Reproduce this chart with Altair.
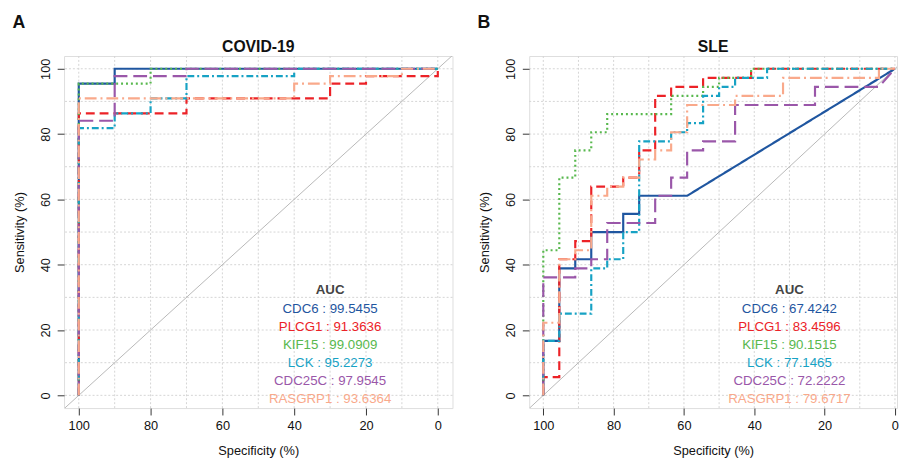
import altair as alt
import pandas as pd

FONT = "Liberation Sans"

genes = ["CDC6", "PLCG1", "KIF15", "LCK", "CDC25C", "RASGRP1"]
colors = ["#1f56a0", "#ec2227", "#58b84e", "#17a2c4", "#9a57a9", "#f9a98b"]
dashes = [[1, 0], [9, 5], [2, 3], [7, 3, 2, 3], [14, 6], [12, 4, 2, 4]]

# ---------- COVID-19 ROC curves (specificity %, sensitivity %) ----------
cov_cdc6_spec = [100, 100, 90, 90, 0]
cov_cdc6_sens = [0, 95.45, 95.45, 100, 100]
cov_plcg1_spec = [100, 100, 70, 70, 30, 30, 20, 20, 0, 0]
cov_plcg1_sens = [0, 86.36, 86.36, 90.91, 90.91, 95.45, 95.45, 97.73, 97.73, 100]
cov_kif15_spec = [100, 100, 80, 80, 0]
cov_kif15_sens = [0, 95.45, 95.45, 100, 100]
cov_lck_spec = [100, 100, 90, 90, 80, 80, 70, 70, 40, 40, 0]
cov_lck_sens = [0, 81.82, 81.82, 86.36, 86.36, 90.91, 90.91, 97.73, 97.73, 100, 100]
cov_cdc25c_spec = [100, 100, 90, 90, 70, 70, 0]
cov_cdc25c_sens = [0, 84.09, 84.09, 97.73, 97.73, 100, 100]
cov_rasgrp1_spec = [100, 100, 40, 40, 30, 30, 10, 10, 0]
cov_rasgrp1_sens = [0, 90.91, 90.91, 95.45, 95.45, 97.73, 97.73, 100, 100]
cov_auc = ["99.5455", "91.3636", "99.0909", "95.2273", "97.9545", "93.6364"]

# ---------- SLE ROC curves ----------
sle_cdc6_spec = [100, 100, 95.45, 95.45, 90.91, 90.91, 86.36, 86.36, 77.27, 77.27, 72.73, 72.73, 59.09, 0]
sle_cdc6_sens = [0, 16.67, 16.67, 38.89, 38.89, 41.67, 41.67, 50, 50, 55.56, 55.56, 61.11, 61.11, 100]
sle_plcg1_spec = [100, 100, 95.45, 95.45, 90.91, 90.91, 86.36, 86.36, 77.27, 77.27, 72.73, 72.73,
                  68.18, 68.18, 63.64, 63.64, 54.55, 54.55, 40.91, 40.91, 0]
sle_plcg1_sens = [0, 5.56, 5.56, 41.67, 41.67, 47.22, 47.22, 63.89, 63.89, 66.67, 66.67, 75,
                  75, 91.67, 91.67, 94.44, 94.44, 97.22, 97.22, 100, 100]
sle_kif15_spec = [100, 100, 95.45, 95.45, 90.91, 90.91, 86.36, 86.36, 81.82, 81.82, 63.64, 63.64,
                  54.55, 54.55, 50, 50, 40.91, 40.91, 0]
sle_kif15_sens = [0, 44.44, 44.44, 66.67, 66.67, 75, 75, 80.56, 80.56, 86.11, 86.11, 91.67,
                  91.67, 94.44, 94.44, 97.22, 97.22, 100, 100]
sle_lck_spec = [100, 100, 95.45, 95.45, 86.36, 86.36, 81.82, 81.82, 77.27, 77.27, 72.73, 72.73,
                63.64, 63.64, 59.09, 59.09, 54.55, 54.55, 50, 50, 45.45, 45.45, 36.36, 36.36, 0]
sle_lck_sens = [0, 16.67, 16.67, 25, 25, 38.89, 38.89, 41.67, 41.67, 50, 50, 77.78,
                77.78, 80.56, 80.56, 83.33, 83.33, 91.67, 91.67, 94.44, 94.44, 97.22, 97.22, 100, 100]
sle_cdc25c_spec = [100, 100, 90.91, 90.91, 86.36, 86.36, 81.82, 81.82, 68.18, 68.18, 63.64, 63.64,
                   59.09, 59.09, 54.55, 54.55, 45.45, 45.45, 22.73, 22.73, 4.55, 0]
sle_cdc25c_sens = [0, 36.11, 36.11, 38.89, 38.89, 41.67, 41.67, 52.78, 52.78, 61.11, 61.11, 66.67,
                   66.67, 75, 75, 77.78, 77.78, 88.89, 88.89, 94.44, 94.44, 100]
sle_rasgrp1_spec = [100, 100, 95.45, 95.45, 90.91, 90.91, 86.36, 86.36, 81.82, 81.82, 77.27, 77.27,
                    72.73, 72.73, 68.18, 68.18, 63.64, 63.64, 59.09, 59.09, 45.45, 45.45, 31.82, 31.82,
                    4.55, 4.55, 0]
sle_rasgrp1_sens = [0, 22.22, 22.22, 41.67, 41.67, 44.44, 44.44, 61.11, 61.11, 63.89, 63.89, 66.67,
                    66.67, 72.22, 72.22, 75, 75, 80.56, 80.56, 88.89, 88.89, 91.67, 91.67, 97.22,
                    97.22, 100, 100]
sle_auc = ["67.4242", "83.4596", "90.1515", "77.1465", "72.2222", "79.6717"]

x_ticks = [100, 80, 60, 40, 20, 0]
y_ticks = [0, 20, 40, 60, 80, 100]
grid_vals = [0, 10, 20, 30, 40, 50, 60, 70, 80, 90, 100]

cov_curves = [(cov_cdc6_spec, cov_cdc6_sens), (cov_plcg1_spec, cov_plcg1_sens),
              (cov_kif15_spec, cov_kif15_sens), (cov_lck_spec, cov_lck_sens),
              (cov_cdc25c_spec, cov_cdc25c_sens), (cov_rasgrp1_spec, cov_rasgrp1_sens)]
sle_curves = [(sle_cdc6_spec, sle_cdc6_sens), (sle_plcg1_spec, sle_plcg1_sens),
              (sle_kif15_spec, sle_kif15_sens), (sle_lck_spec, sle_lck_sens),
              (sle_cdc25c_spec, sle_cdc25c_sens), (sle_rasgrp1_spec, sle_rasgrp1_sens)]

color_scale = alt.Scale(domain=genes, range=colors)
dash_scale = alt.Scale(domain=genes, range=dashes)


def panel(curves, aucs, title, letter, width, xdom):
    xs = alt.Scale(domain=xdom, reverse=True, nice=False, zero=False)
    ys = alt.Scale(domain=[-3.9, 103.9], nice=False, zero=False)
    x_axis = alt.Axis(values=x_ticks, title="Specificity (%)", grid=False, domain=False,
                      tickSize=7, tickColor="#333", labelFontSize=13, labelPadding=5,
                      labelColor="#111", titleFontSize=13, titleFontWeight="normal",
                      titlePadding=12, labelFont=FONT, titleFont=FONT, titleColor="#111")
    y_axis = alt.Axis(values=y_ticks, title="Sensitivity (%)", grid=False, domain=False,
                      tickSize=7, tickColor="#333", labelFontSize=13, labelPadding=5,
                      labelAngle=270, labelAlign="center", labelBaseline="bottom",
                      labelColor="#111", titleFontSize=13, titleFontWeight="normal",
                      titlePadding=13, labelFont=FONT, titleFont=FONT, titleColor="#111")

    gx = pd.DataFrame({"spec": grid_vals})
    gy = pd.DataFrame({"sens": grid_vals})
    vgrid = alt.Chart(gx).mark_rule(color="#d4d4d4", strokeDash=[2, 2], strokeWidth=1).encode(
        x=alt.X("spec:Q", scale=xs, axis=x_axis))
    hgrid = alt.Chart(gy).mark_rule(color="#d4d4d4", strokeDash=[2, 2], strokeWidth=1).encode(
        y=alt.Y("sens:Q", scale=ys, axis=y_axis))

    diag = pd.DataFrame({"spec": [104, xdom[0]], "sens": [-4, 100 - xdom[0]]})
    diag_line = alt.Chart(diag).mark_line(color="#b8b8b8", strokeWidth=1, clip=True).encode(
        x=alt.X("spec:Q", scale=xs), y=alt.Y("sens:Q", scale=ys))

    layers = [vgrid, hgrid, diag_line]
    for g, (sp, se) in zip(genes, curves):
        d = pd.DataFrame({"gene": g, "idx": list(range(len(sp))), "spec": sp, "sens": se})
        layers.append(
            alt.Chart(d).mark_line(strokeWidth=2.2, clip=True).encode(
                x=alt.X("spec:Q", scale=xs),
                y=alt.Y("sens:Q", scale=ys),
                order="idx:Q",
                color=alt.Color("gene:N", scale=color_scale, legend=None),
                strokeDash=alt.StrokeDash("gene:N", scale=dash_scale, legend=None),
            ))

    leg = pd.DataFrame({
        "gene": genes,
        "label": [f"{g} : {a}" for g, a in zip(genes, aucs)],
        "spec": [30] * 6,
        "sens": [26.4 - 5.5 * i for i in range(6)],
    })
    leg_text = alt.Chart(leg).mark_text(fontSize=13.5, font=FONT).encode(
        x=alt.X("spec:Q", scale=xs), y=alt.Y("sens:Q", scale=ys), text="label:N",
        color=alt.Color("gene:N", scale=color_scale, legend=None))
    auc_title = alt.Chart(pd.DataFrame({"t": ["AUC"], "spec": [30], "sens": [32.1]})).mark_text(
        fontSize=13.5, font=FONT, fontWeight="bold", color="#444").encode(
        x=alt.X("spec:Q", scale=xs), y=alt.Y("sens:Q", scale=ys), text="t:N")
    letter_text = alt.Chart(pd.DataFrame({"t": [letter]})).mark_text(
        fontSize=18, font=FONT, fontWeight="bold", color="#111", align="center",
        baseline="middle").encode(text="t:N", x=alt.value(-46), y=alt.value(-33))
    title_text = alt.Chart(pd.DataFrame({"t": [title]})).mark_text(
        fontSize=16, font=FONT, fontWeight="bold", color="#111", align="center",
        baseline="middle").encode(text="t:N", x=alt.value(width / 2), y=alt.value(-9))
    layers += [leg_text, auc_title, letter_text, title_text]

    return alt.layer(*layers).properties(width=width, height=358)


left = panel(cov_curves, cov_auc, "COVID-19", "A", 395, [-4.1, 104.1])
right = panel(sle_curves, sle_auc, "SLE", "B", 374, [-0.6, 104.0])

chart = alt.hconcat(left, right, spacing=24).properties(
    padding={"left": 4, "top": 2, "right": 0, "bottom": 0}
).configure_view(stroke="#333", strokeWidth=1.3).configure(background="white")

chart.save("out.html", embed_options={"renderer": "svg", "actions": False})
